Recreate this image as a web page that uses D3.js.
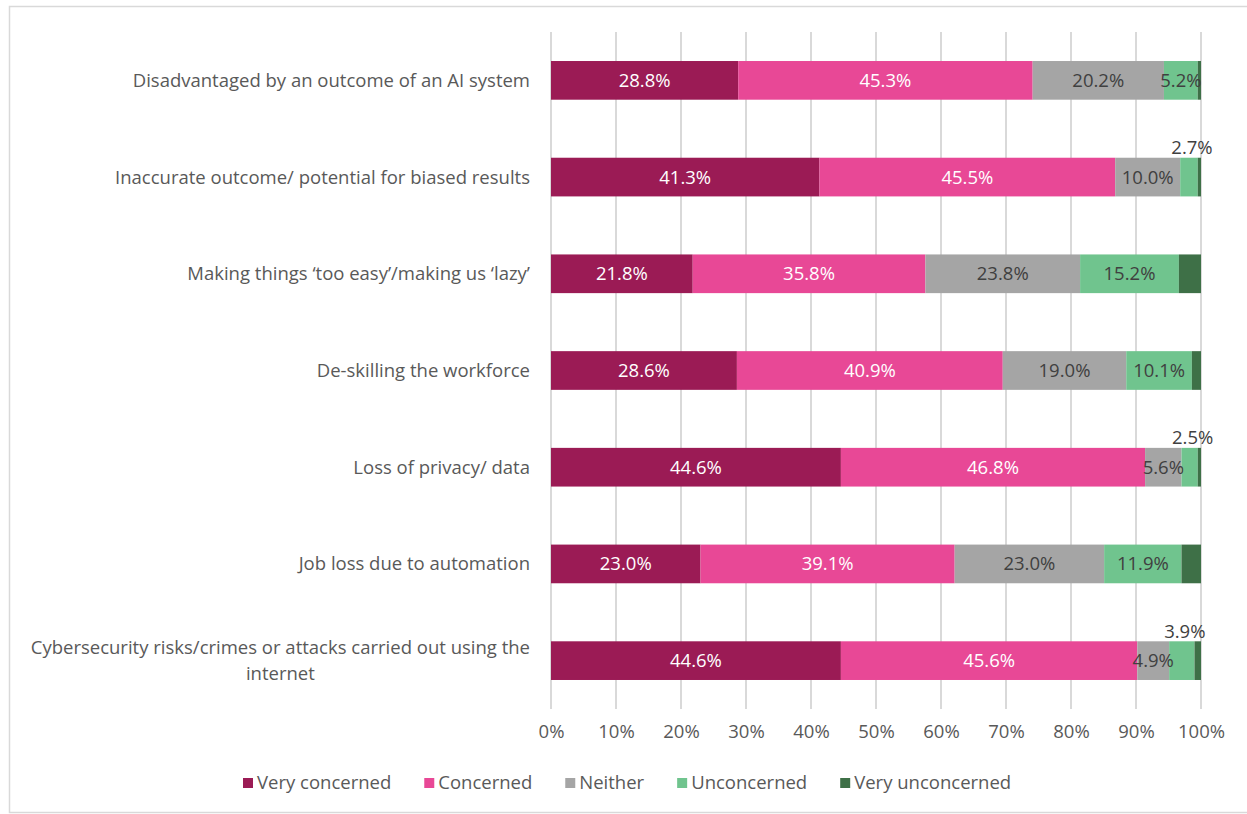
<!DOCTYPE html>
<html><head><meta charset="utf-8">
<script src="https://cdn.jsdelivr.net/npm/d3@7/dist/d3.min.js"></script>
<style>
body{margin:0;background:#fff;}
svg{display:block;font-family:"Open Sans",Lato,sans-serif;}
</style></head>
<body><svg id="c" width="1247" height="814"></svg>
<script>
const categories = [
  "Disadvantaged by an outcome of an AI system",
  "Inaccurate outcome/ potential for biased results",
  "Making things \u2018too easy\u2019/making us \u2018lazy\u2019",
  "De-skilling the workforce",
  "Loss of privacy/ data",
  "Job loss due to automation",
  "Cybersecurity risks/crimes or attacks carried out using the internet"
];
const seriesNames = ["Very concerned","Concerned","Neither","Unconcerned","Very unconcerned"];
const veryConcerned   = [28.8, 41.3, 21.8, 28.6, 44.6, 23.0, 44.6];
const concerned       = [45.3, 45.5, 35.8, 40.9, 46.8, 39.1, 45.6];
const neither         = [20.2, 10.0, 23.8, 19.0, 5.6, 23.0, 4.9];
const unconcerned     = [5.2, 2.7, 15.2, 10.1, 2.5, 11.9, 3.9];
const veryUnconcerned = [0.5, 0.5, 3.4, 1.4, 0.5, 3.0, 1.0];
const tickValues = [0,10,20,30,40,50,60,70,80,90,100];
const colors = ["#9B1B55","#E84896","#A5A5A5","#70C48E","#3E7047"];
const labelColors = ["#ffffff","#ffffff","#404040","#404040",null];

const FS = "18.5px";
const seriesValues = [veryConcerned, concerned, neither, unconcerned, veryUnconcerned];
const rows = categories.map((c,i)=>{
  const r={cat:c};
  seriesNames.forEach((s,j)=>r[s]=seriesValues[j][i]);
  return r;
});
const stack = d3.stack().keys(seriesNames)(rows);

const svg = d3.select("#c");
svg.append("rect").attr("x",9.5).attr("y",6.5).attr("width",1240).attr("height",806)
  .attr("fill","#fff").attr("stroke","#D9D9D9").attr("stroke-width",1.5);

const x = d3.scaleLinear().domain([0,100]).range([551,1201]);
const y = d3.scaleBand().domain(categories).range([32,709]).paddingInner(0.6).paddingOuter(0.3);

// gridlines
svg.append("g").selectAll("line").data(tickValues).join("line")
  .attr("x1",d=>x(d)).attr("x2",d=>x(d)).attr("y1",32).attr("y2",709)
  .attr("stroke","#D9D9D9").attr("stroke-width",2);

// x axis labels
const xAxis = d3.axisBottom(x).tickValues(tickValues).tickFormat(d=>d+"%").tickSize(0).tickPadding(0);
const gx = svg.append("g").attr("transform","translate(0,725)").call(xAxis);
gx.select(".domain").remove();
gx.selectAll("text").attr("fill","#595959").style("font-size",FS).style("font-family","'Open Sans',Lato,sans-serif");

// bars
const layers = svg.append("g").selectAll("g").data(stack).join("g").attr("fill",(d,i)=>colors[i]);
layers.selectAll("rect").data(d=>d).join("rect")
  .attr("x",d=>x(d[0])).attr("width",d=>x(d[1])-x(d[0]))
  .attr("y",d=>y(d.data.cat)).attr("height",y.bandwidth());

// labels
stack.forEach((layer,i)=>{
  if(!labelColors[i]) return;
  layer.forEach(d=>{
    const v=d[1]-d[0];
    const cx=(x(d[0])+x(d[1]))/2;
    const inside = v>=4;
    svg.append("text")
      .attr("x", inside?cx:cx+3)
      .attr("y", inside? y(d.data.cat)+y.bandwidth()/2 : y(d.data.cat)-10)
      .attr("dy","0.35em").attr("text-anchor","middle")
      .attr("fill", inside?labelColors[i]:"#404040")
      .style("font-size",FS)
      .text(v.toFixed(1)+"%");
  });
});

// category labels
categories.forEach((c,i)=>{
  const cy=y(c)+y.bandwidth()/2;
  if(i===6){
    const t1=svg.append("text").attr("x",530).attr("y",cy-13).attr("dy","0.35em").attr("text-anchor","end")
      .attr("fill","#595959").style("font-size",FS).text("Cybersecurity risks/crimes or attacks carried out using the");
    const w=t1.node().getComputedTextLength();
    svg.append("text").attr("x",530-w/2).attr("y",cy+13).attr("dy","0.35em").attr("text-anchor","middle")
      .attr("fill","#595959").style("font-size",FS).text("internet");
  } else {
    svg.append("text").attr("x",530).attr("y",cy).attr("dy","0.35em").attr("text-anchor","end")
      .attr("fill","#595959").style("font-size",FS).text(c);
  }
});

// legend
const lg=svg.append("g");
let lx=243;
seriesNames.forEach((s,i)=>{
  lg.append("rect").attr("x",lx).attr("y",778).attr("width",10).attr("height",10).attr("fill",colors[i]);
  const t=lg.append("text").attr("x",lx+14).attr("y",783).attr("dy","0.35em").attr("fill","#595959")
    .style("font-size",FS).text(s);
  lx += 14 + t.node().getComputedTextLength() + 33;
});
</script></body></html>
